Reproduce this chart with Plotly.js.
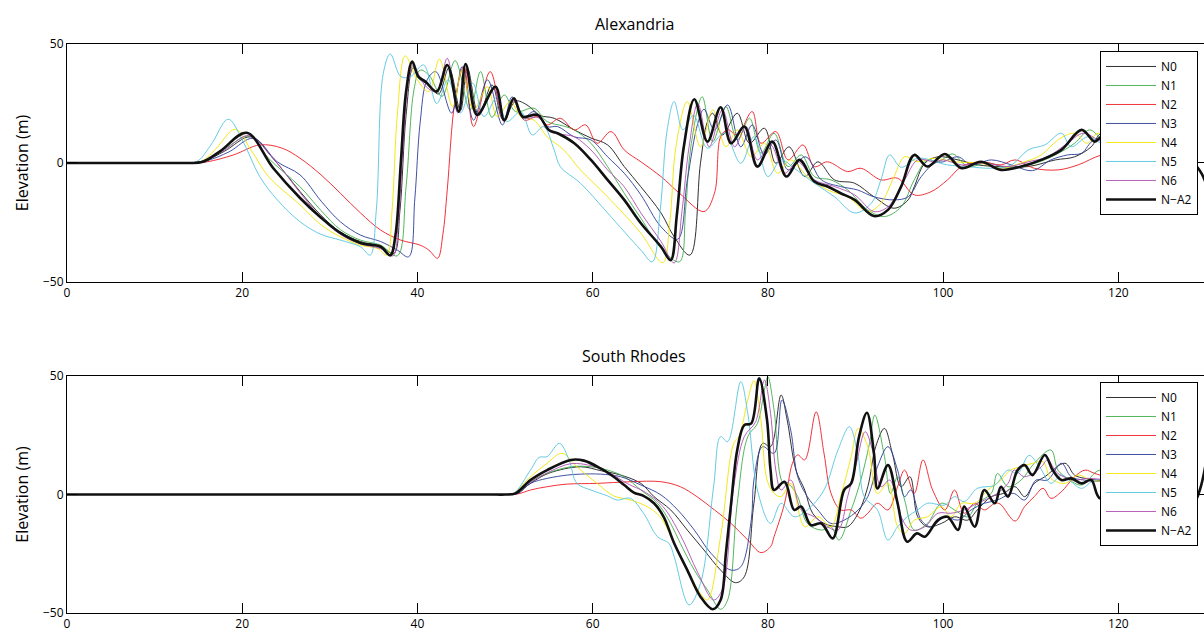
<!DOCTYPE html>
<html><head><meta charset="utf-8">
<script src="https://cdn.plot.ly/plotly-3.0.1.min.js"></script>
<style>html,body{margin:0;padding:0;overflow:hidden;background:#fff}#chart{width:1206px;height:634px}</style>
</head><body><div id="chart"></div>
<script>
const seriesNames = ['N0','N1','N2','N3','N4','N5','N6','N\u2212A2'];
const panelTitles = ['Alexandria','South Rhodes'];
const yTitle = 'Elevation (m)';
const xTicks = [0,20,40,60,80,100,120];
const yTicks = [-50,0,50];

// ---------- Alexandria ----------
const alexN0_t = [0,5,10,13,14,15.8,18,21,23.5,26.6,29,31.2,33.5,35.8,37.3,38.0,38.7,39.5,40.3,41.2,42.4,43.6,44.9,45.7,47.0,48.5,49.8,51.2,52.5,54,55.6,57.9,59.8,61.7,63.6,65.5,67.8,69.3,71.1,72.3,73.1,73.7,74.8,76.5,77.9,79.6,80.9,82.4,84.2,85.7,87.6,89.9,92.1,94.4,96.0,96.7,97.9,99.4,101.7,104,106.6,109.7,112.8,115,116.9,118.1,122,127];
const alexN0_v = [0,0,0,0,0,1,5,11,2,-12,-22,-29,-33,-35,-38,-20,20,40,35,33,29,40,22,40,20,32.8,18,26,24.4,20,18.8,13.9,10.5,7.6,-1.5,-10,-21,-31,-38.7,-0.1,17.4,20.9,11.8,20.9,8.3,14.6,-0.1,6.8,-5.7,0.5,-7.1,-8.5,-14.2,-19,-15.5,-10,-0.1,2.6,1.3,-0.8,-1.5,-1.5,1.3,2.6,6.8,12.5,6,2];

const alexN1_t = [0,5,10,13,14,15.7,18,20.9,23,26.6,29,31.2,33.5,35.8,37.7,38.7,39.6,40.3,41.3,42.8,44.3,46.0,47.2,48.5,49.9,51.2,53.3,54.8,56.7,57.9,59.8,61.7,63.6,65.5,67.8,69.9,70.6,71.2,72.5,73.7,75.2,76.5,77.9,79.2,80.7,82.3,83.8,85.3,87.2,89.1,91.4,93.3,95.2,96.7,98.2,99.4,101.1,102.8,105.1,107.4,110.5,112.8,115,116.7,118.1,122,127];
const alexN1_v = [0,0,0,0,0,1,6,11.3,2,-10,-20,-28,-32.4,-34.5,-39,-10,30.7,39,37,28,43,22.3,38.4,19.2,28.6,21.6,23,17.4,15.5,13.9,8.3,-1.5,-12.7,-23.2,-35.8,-41.5,-20,6.8,27.8,9,23.7,9.7,18.8,4.1,12.5,-1.5,3.4,-5.7,-7.1,-11.3,-19.7,-22.5,-18.4,-7.1,1.3,0.5,3.8,-1.5,0.1,-2.2,-0.1,3.4,8.3,13.9,10.4,6,2];

const alexN2_t = [0,5,10,13,14,16,19,22,24.5,26.6,29,31.2,33.5,35.8,38.1,40.3,41.3,42.3,42.9,43.4,44.3,45.3,46.4,48.3,49.9,51.0,52.2,53.7,54.8,56.3,57.9,59.2,60.5,62.1,63.6,65.5,67.8,69.9,72.7,73.9,74.6,75.4,76.5,78.2,79.2,80.9,82.3,84,85.3,86.8,89.1,90.6,92.9,94.8,96.7,98.6,100.5,102.1,104.3,106.6,108.2,110.4,113.1,115.4,118.1,122,127];
const alexN2_v = [0,0,0,0,0,0.5,3.4,7.6,6.3,2,-5,-12.7,-21,-28.2,-32.4,-34.5,-36.6,-40,-30,-11.3,26.5,40.5,15.3,38.4,17.4,26.5,18,19.5,16,18.8,13.9,16,8.3,13.2,5.5,0.5,-5.7,-12.7,-20.4,-12.7,11,14,11.8,21.6,8.3,13.2,1.3,7.6,-1.5,0.5,-3.6,-2.2,-7.1,-6.4,-13.4,-12.1,-7.1,-1.5,0.5,-0.8,1.3,-2.2,-2.9,-0.8,3.4,5,2];

const alexN3_t = [0,5,10,13,14,16,18.5,21.3,24,26.6,29,31.2,33.5,35.8,37.7,39.0,39.7,40.3,41.1,42.1,43.9,45.1,46.4,48.0,49.7,50.8,52.0,53.3,54.8,56.0,57.9,59.8,61.7,63.6,65.5,67.8,69.7,70.8,72.0,72.7,73.9,75.4,76.9,78.2,79.6,80.9,82.3,84.3,86.1,88.3,90.2,92.1,94.4,96.0,97.5,99,100,101.7,103.2,105.5,107.8,110.2,112.3,114.2,115.8,117.3,122,127];
const alexN3_v = [0,0,0,0,0,1,4.7,10.4,0.5,-5,-16,-24.7,-30.3,-33,-36.6,-39.4,-15,16.7,34.9,38.4,21,40.5,18,34.9,16,27.8,18.8,21.6,15.3,15.3,11,9.7,2.6,-4.3,-13.4,-26.8,-32,-7.1,16.7,22.6,13.9,24.4,6.8,16,3.4,9.7,-2.9,2.6,-7.1,-9.9,-11.3,-14.2,-15.5,-14.2,-5.7,-0.1,0.5,2.6,-0.8,1.3,-0.8,-3.2,1.3,3.4,4.1,9.7,6,2];

const alexN4_t = [0,5,10,13,14,15.5,17,19.2,21,23,26.6,29,31.2,33.5,35.5,36.5,37.1,37.7,38.6,40.0,41.3,42.5,44.0,45.1,46.4,48.0,49.1,50.6,51.8,53.3,54.8,56.7,58.6,61.7,65.5,68.0,68.8,69.5,70.8,72.3,73.7,75.2,76.5,78.1,79.6,81.1,82.6,84.5,86.8,89.1,91.4,92.9,94.4,95.6,97.1,99,101.3,104.3,106.6,108.9,111.2,113.1,115.0,116.4,117.7,122,127];
const alexN4_v = [0,0,0,0,0,1,6,14.2,5.5,-5.7,-17.6,-26,-31,-34.5,-36,-38.7,-20,20,45,34.9,30,43.6,23.7,39,22.3,32,19.5,25.8,19.5,18,11,5.5,-2.9,-14.2,-29.5,-41.9,-25,6.8,25.8,6.8,22.3,6.8,13.9,2.6,8.3,-4.3,1.3,-5.7,-11.3,-14.2,-20.4,-16.9,-5.7,2.6,0.5,2,0.5,-0.1,-2.2,0,3.4,9.7,12.5,8.3,12.5,6,2];

const alexN5_t = [0,5,10,13,14,15,16.5,18.4,20,22,24,26.6,29,31.2,33.5,34.6,35.3,36.1,36.9,38.1,39.2,40.7,42.2,43.5,44.9,46.3,47.6,49.1,50.2,51.8,53.1,54.4,55.6,56.3,58.6,61.7,65.5,66.8,67.7,68.5,69.3,70.3,71.5,73.1,75.0,76.9,78.4,80.0,81.5,83.0,85.3,87.6,89.9,91.8,92.9,93.9,95.2,97.1,100.5,102.8,105.5,107.8,109.7,111.6,113.5,114.6,116.5,118.1,122,127];
const alexN5_v = [0,0,0,0,0,1,8,18.4,9.7,-5.7,-15.5,-24.7,-30,-32.4,-35.2,-38.7,-20,37.7,45.8,36.3,36.3,41.2,25,35,21,33.5,19.5,27.8,17.4,21.6,11.8,15.3,5.5,-1.5,-8.5,-21,-36.6,-41.5,-20,13.9,25.8,13.9,20,6.2,12.5,-0.1,11,-5.7,1.3,-2.2,-8.5,-14.2,-21,-16.9,-7.1,3.4,-1.8,2,-0.8,-1.5,-2.2,-0.8,5.5,7.6,12.5,6.8,11,8.3,5,2];

const alexN6_t = [0,5,10,13,14,15.6,18,20.7,23.5,26.6,29,31.2,33.5,35.8,37.2,37.8,38.4,39.0,39.5,40.3,41.0,42.2,43.4,44.6,45.6,46.9,48.7,49.8,51.0,52.2,53.8,55.2,56.5,57.9,59.8,61.7,63.6,65.5,67.8,69.3,70.2,71.0,72.0,73.3,74.8,76.2,77.5,78.8,80.3,81.9,83.4,85.3,87.6,89.9,92.1,93.7,95.6,97.1,99,100,102.1,104.6,107.4,109.7,111.9,114.2,116,118.1,122,127];
const alexN6_v = [0,0,0,0,0,1,5.5,11.5,2,-12.5,-23,-30,-34,-36,-39,-25,10,35,41,36,32,30,44,21,38,20,31,18,26,19,19,13,12,11,5.5,-2.9,-10,-21,-33,-42,-20,6.8,25,6.8,22.3,6.8,15.3,1.3,7.6,-4.3,0.5,-7.1,-9.9,-13.4,-20.4,-18.4,-7.1,1.3,0.5,1.3,-0.8,0,-1.5,0.5,2.6,8.3,12.5,9,6,2];

const alexNA2_t = [0,5,10,13,14,15.5,17.5,20.5,23.5,26.6,29,31.2,33.5,35.8,36.9,37.5,38.1,38.7,39.4,40.1,40.9,42.2,43.4,44.7,45.5,46.8,48.9,49.9,51.0,52.0,53.7,55.0,56.0,57.9,59.8,61.7,63.6,65.5,67.8,68.9,69.6,70.4,71.6,73.1,74.6,75.8,77.3,78.8,80.5,82.1,83.6,85.3,86.8,88.3,89.9,92.1,93.7,95.2,96.7,98.2,100.2,102.1,104.3,106.6,108.9,111.2,113.5,115.8,117.3,118.1,121,125,128.5,129.5,130.5];
const alexNA2_v = [0,0,0,0,0,0.5,5,12.7,-2,-14.7,-23,-29.4,-33.6,-35.2,-38.8,-30,0,30,42.6,36.3,34.2,30,41.2,21.6,41.6,20.2,32,18,27.2,19.5,20.2,13.9,12.5,8.3,1.3,-7.1,-15.5,-25.3,-35.2,-40.8,-22,6.8,26.8,9,23.4,8.3,15.3,-1.5,9,-5.7,1.3,-7.8,-9.9,-12.7,-15.5,-22.3,-19.7,-9.9,3.4,-1.5,3.8,-2.2,0.5,-2.9,-1.5,1.3,5.5,13.9,9,11,8,3,0,-4.5,-14];

// ---------- South Rhodes ----------
const rhoN0_t = [0,15,30,45,48.5,50,51.2,53,55,58.6,61,63.2,65.5,67,68.9,70.8,72.7,74.6,76.3,77.3,78.4,79.4,80.3,81.5,82.2,83.2,84.2,85.1,86.4,88,89.1,90.3,91.4,92.3,93.3,94.2,95.2,96.2,97.1,98.2,99.8,101.3,102.8,103.9,105.5,106.9,108.2,109.3,110.4,111.6,113.9,115,116.2,121,126];
const rhoN0_v = [0,0,0,0,0,0,0.5,5,9,11.7,10,8.2,4.7,-0.9,-6.5,-15,-23.4,-31.9,-37.2,-34.7,-3.7,21.6,20.2,42,31.4,10.3,1.9,-7.9,-12.2,-13.6,-13.6,-7.9,3.3,20.2,27.9,17.4,3.3,7.5,-9.4,-13.6,-12.2,-9.4,-10.8,-6.5,-0.9,0.5,3.3,-0.9,4.7,7.5,13.2,8.2,6.8,5,3];

const rhoN1_t = [0,15,30,45,48.5,50,51.2,52.9,54.8,57.5,59.8,61.7,63.6,65.5,67.4,68.9,70,71.6,73.1,74.6,75.4,76.5,77.7,78.8,79.6,80,80.7,81.7,82.5,83.4,84.5,86.1,87.2,88.1,89.5,90.6,91.6,92.2,93.3,94,94.8,95.6,96.7,98.2,99.8,101.3,102.8,103.9,105.5,106.2,107.4,108.9,110.4,112.3,113.1,114.2,115.8,117.9,121,126];
const rhoN1_v = [0,0,0,0,0,0,0.5,5.4,8.9,11.7,11.7,10.3,7.5,1.9,-3.7,-12.2,-20.6,-31.9,-40.3,-48.4,-44.5,-3.7,24.4,30,44.1,49.7,35.7,5,4,-0.9,-12.2,-15,-13.6,-19.2,-6.5,6.1,21.6,33.5,16,0.5,7.5,-2.3,-15,-12.2,-3.7,-6.5,-9.4,-3.7,0.5,8.9,3.3,6.1,13.2,18.8,10.3,6.8,4,10.3,5,3];

const rhoN2_t = [0,15,30,45,48.5,50,51.5,52.9,54.8,57.1,60.5,64.3,67.8,70,71.9,73.9,75.8,77.7,79.2,80.3,80.7,81.9,82.8,83.4,84.2,85.5,86.4,87.2,88.3,89.5,90.6,91.4,92.5,93.7,94.8,95.6,96.7,97.7,98.8,100.2,101.3,102.4,103.6,104.7,105.9,106.5,108.2,109.3,110.4,111.4,112.3,113.5,115,116.2,117.3,121,126];
const rhoN2_v = [0,0,0,0,0,0,0.3,1.9,3.3,4.4,4.7,5.4,5.4,3.3,-0.9,-6.5,-12.2,-19.2,-24.5,-22,-17.8,-3.7,13.2,16.7,14.6,34.9,17.4,0.5,-6.5,-6.5,-10,-7.9,-3.7,-6.5,3.3,10.3,0.5,14.6,1.9,-6.5,1.9,-7.9,-3.7,-6.5,-3.7,-4,-11.2,-5.1,-0.9,2.6,-1.6,1.2,7.5,10.3,8.9,5,3];

const rhoN3_t = [0,15,30,45,48.5,50,51.5,52.9,54.8,57.1,58.6,60.9,63.2,65.5,67.8,69.7,71.6,73.5,75.8,76.9,78.1,78.4,79.4,80.7,81.6,82.6,83.4,84.5,85.7,87.2,88.7,90.3,91.4,92.5,93.7,94.8,95.6,96.3,97.5,98.6,100.2,101.7,103.2,104.7,106.2,108,109.3,110.6,111.9,113.5,114.6,116.1,121,126];
const rhoN3_v = [0,0,0,0,0,0,0.5,4.7,6.8,8.2,8.6,8.6,7.5,4,-0.2,-6.5,-15,-24.8,-31.9,-30.5,-10.8,6.1,20.2,17.4,39.9,27.2,7.5,-0.9,-6.5,-12.2,-10.8,-6.5,-0.9,11.7,20.2,10.3,-0.9,1.9,-10.8,-13.6,-9.4,-10.8,-6.5,-3.7,-2.3,0.5,-2.3,6.1,6.1,13.2,7.5,6.1,5,3];

const rhoN4_t = [0,15,30,45,48.5,50,51,52.9,54.8,56.5,58.2,60.5,62.4,64.3,66.2,67.7,69.3,70.8,72.3,73.1,74.6,76.1,76.7,77.7,78.4,79.2,79.9,80.7,81.5,82.6,84.2,85.7,87.2,88.3,89.5,90.3,91.4,92.5,93.7,94.8,95.6,96.7,98.2,99.8,100.9,102.1,103.6,105.1,106.6,107.7,108.9,110.2,111.4,112.3,113.9,115.4,116.9,121,126];
const rhoN4_v = [0,0,0,0,0,0,0.5,7.5,13.2,17.4,11.7,4.7,-0.6,-2.3,-5.1,-9.4,-20.6,-31.9,-41.7,-44.5,-17.8,21.6,24.4,39.9,48,31.4,6.1,0.5,-0.9,4.7,-13.6,-9.4,-13.6,-0.9,16,27.9,20.2,0.5,4.7,-13.6,-16.4,-10.8,-9.4,-5.1,-9.4,-3.7,-3.7,1.9,6.1,10.3,11.7,13.2,13.8,6.8,4.7,8.2,6.1,5,3];

const rhoN5_t = [0,15,30,45,48.5,50,51,52.9,53.9,54.8,56.2,57.3,58.2,59.8,61.7,62.8,64.3,65.8,67.4,68.7,69.3,71,72.3,73.8,74.6,75.4,76.9,77.7,78.8,80.3,81.5,83,84.5,86.4,88,89.3,90.3,91,92.5,93.7,94.8,95.9,97.1,98.2,100.2,101.3,102.4,103.9,105.9,107.4,108.5,109.8,111,112.3,113.5,114.6,115.8,117.3,121,126];
const rhoN5_v = [0,0,0,0,0,0,0.5,10.3,15.7,16,21.6,14.6,4.7,1.9,-0.6,-2.3,-1.6,-7.9,-17.8,-20.6,-26.2,-46.6,-37.5,3.3,24.4,22.3,47.6,34.3,1.9,-12.2,-3.7,-9.4,-6.5,1.9,18.8,28.6,16,-0.9,-6.5,-19.2,-13.6,-9.4,-6.5,-3.7,-4.4,-0.9,-3,2.6,4,10.3,8.9,16.5,11.7,4.7,8.2,5.4,2.6,6.1,5,3];

const rhoN6_t = [0,15,30,45,48.5,50,51.1,53,55,57.5,60,62,64,66,68,70,72,73.8,74.8,76.1,77.3,78.6,79.6,80.3,80.9,81.5,82.6,83.8,85.3,86.8,88,89.1,90.1,91.1,92,92.9,93.9,95.2,96.3,97.9,99.4,100.9,102.4,103.9,105.9,107.4,108.1,109.3,111.2,111.9,113.1,115,116.5,121,126];
const rhoN6_v = [0,0,0,0,0,0,0.5,5.5,9.5,13,12,9,4.5,1,-5,-17,-33,-44.5,-40,3.3,24.4,30.7,48.3,34.3,10.3,1.9,6.1,-6.5,-9.4,-13.6,-15,-0.9,13.2,26.5,18,3.3,6.1,-9.4,-15,-13.6,-7.9,-7.9,-6.5,-3.7,-0.2,4.7,10.3,7.5,11.7,14.6,8.9,6.1,6.8,5,3];

const rhoNA2_t = [0,15,30,45,48.5,50,51.2,52.9,54.8,57.5,59,60.9,62.4,63.6,64.7,65.8,67,68.1,69.3,70.8,72.3,73.7,74.6,75.2,75.8,76.5,77.3,78.1,79,79.9,80.3,80.7,81.9,83,83.8,84.9,86.1,87.4,88.7,89.5,90.4,91.3,92.1,92.5,93.7,94.8,95.9,97,97.9,99.4,100.5,101.7,102.4,103.6,104.7,105.9,106.6,107.4,108.5,109.3,110.2,111.6,112.5,113.5,114.6,115.8,116.9,117.9,121,125,128.6,129.3,130.2];
const rhoNA2_v = [0,0,0,0,0,0,0.5,6.1,10.3,14.6,14.3,11,7.5,4,0.8,-0.6,-3.7,-9.4,-20.6,-31.9,-43.1,-48.4,-44.5,-25,-3.7,18.8,29.3,30,49,31.4,10.3,1.9,5.4,-6.5,-5.1,-12.9,-12.2,-18.5,1.9,4.7,24.4,34.5,17.4,2.6,12.4,-3.7,-19.9,-16.4,-17.8,-10.8,-9.4,-15,-5.1,-13.6,1.9,-3.7,3.3,-0.9,10.3,12.4,8.2,16.7,10.3,6.1,6.8,4.7,6.1,-1.6,5,3,-3,2,18];

const seriesColors = ['#1a1a1a','#3fae49','#ee1c24','#2b3d97','#f2e400','#55c5e0','#b04fb0','#111111'];
const seriesWidths = [0.9,0.9,0.9,0.9,0.9,0.9,0.9,2.6];

const alexT = [alexN0_t,alexN1_t,alexN2_t,alexN3_t,alexN4_t,alexN5_t,alexN6_t,alexNA2_t];
const alexV = [alexN0_v,alexN1_v,alexN2_v,alexN3_v,alexN4_v,alexN5_v,alexN6_v,alexNA2_v];
const rhoT = [rhoN0_t,rhoN1_t,rhoN2_t,rhoN3_t,rhoN4_t,rhoN5_t,rhoN6_t,rhoNA2_t];
const rhoV = [rhoN0_v,rhoN1_v,rhoN2_v,rhoN3_v,rhoN4_v,rhoN5_v,rhoN6_v,rhoNA2_v];

const traces = [];
function addPanel(T, V, xa, ya, leg) {
  for (let i = 0; i < seriesNames.length; i++) {
    traces.push({
      type: 'scatter', mode: 'lines', name: seriesNames[i],
      x: T[i], y: V[i], xaxis: xa, yaxis: ya, legend: leg,
      line: {color: seriesColors[i], width: seriesWidths[i], shape: 'spline', smoothing: 1},
      hoverinfo: 'skip'
    });
  }
}
addPanel(alexT, alexV, 'x', 'y', 'legend');
addPanel(rhoT, rhoV, 'x2', 'y2', 'legend2');

const fontFam = 'Open Sans, Noto Sans, sans-serif';
function xAx(anchor) {
  return {anchor: anchor, domain: [0, 1], range: [0, 130], tickvals: xTicks,
    ticks: 'inside', ticklen: 10, tickwidth: 1, tickcolor: '#000',
    showline: true, linecolor: '#000', linewidth: 1, mirror: 'ticks',
    showgrid: false, zeroline: false, tickfont: {size: 12, color: '#000'}, fixedrange: true};
}
function yAx(anchor, dom) {
  return {anchor: anchor, domain: dom, range: [-50, 50], tickvals: yTicks,
    ticks: 'inside', ticklen: 10, tickwidth: 1, tickcolor: '#000',
    showline: true, linecolor: '#000', linewidth: 1, mirror: 'ticks',
    showgrid: false, zeroline: false, tickfont: {size: 12, color: '#000'},
    title: {text: yTitle, font: {size: 16, color: '#000'}, standoff: 10}, fixedrange: true};
}
function legendCfg(y) {
  return {x: 0.993, xanchor: 'right', y: y, yanchor: 'top', bgcolor: '#fff',
    bordercolor: '#000', borderwidth: 1, font: {size: 12, color: '#000'},
    itemwidth: 50, tracegroupgap: 0, itemclick: false, itemdoubleclick: false};
}

const layout = {
  width: 1206, height: 634,
  margin: {l: 67, r: 0, t: 0, b: 0},
  paper_bgcolor: '#fff', plot_bgcolor: '#fff',
  font: {family: fontFam, color: '#000'},
  showlegend: true,
  xaxis: xAx('y'), yaxis: yAx('x', [0.5552, 0.9306]),
  xaxis2: xAx('y2'), yaxis2: yAx('x2', [0.0331, 0.4069]),
  legend: legendCfg(0.9196),
  legend2: legendCfg(0.3975),
  annotations: [
    {text: panelTitles[0], xref: 'paper', yref: 'paper', x: 0.498, y: 0.962, xanchor: 'center', yanchor: 'middle', showarrow: false, font: {size: 16, color: '#000'}},
    {text: panelTitles[1], xref: 'paper', yref: 'paper', x: 0.498, y: 0.4385, xanchor: 'center', yanchor: 'middle', showarrow: false, font: {size: 16, color: '#000'}}
  ]
};

Plotly.newPlot('chart', traces, layout, {displayModeBar: false, staticPlot: true});
</script>
</body></html>
